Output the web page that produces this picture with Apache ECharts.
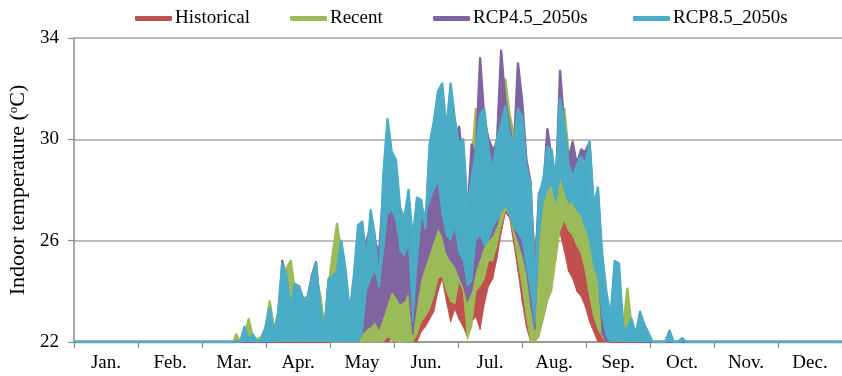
<!DOCTYPE html>
<html>
<head>
<meta charset="utf-8">
<script src="https://cdn.jsdelivr.net/npm/echarts@6/dist/echarts.min.js"></script>
<style>
html,body{margin:0;padding:0;background:#fff;}
#chart{width:842px;height:376px;}
</style>
</head>
<body>
<div id="chart"></div>
<script>
// Month labels on the x axis
const months = ['Jan.','Feb.','Mar.','Apr.','May','Jun.','Jul.','Aug.','Sep.','Oct.','Nov.','Dec.'];
const seriesNames = ['Historical','Recent','RCP4.5_2050s','RCP8.5_2050s'];
const seriesColors = ['#C0504D','#9BBB59','#8064A2','#4BACC6'];
const yMin = 22, yMax = 34, yStep = 4;
const yearDays = 365;
// Readings are taken as 2-day windows (daily min / max), starting on this day of year;
// outside the windows every series sits at the 22 °C floor.
const firstDay = 76;
const floorTemp = 22;

// RCP8.5_2050s (blue)
const rcp85Hi = [22,22,22.6,22.1,22.3,22,22.1,22.6,23.35,22.3,
 23.2,25.1,24.6,23.3,24.3,24.2,23.7,23.8,24.5,25.1,
 23.4,22.4,24.5,24.6,24.8,26.0,24.9,23.2,24.6,26.6,
 26.75,25.2,27.2,26.2,24.2,28.6,30.8,29.5,29.2,27.3,
 26.9,28.0,26.0,27.7,27.6,26.5,29.8,30.7,31.9,32.2,
 30.4,32.2,30.8,29.8,30.0,27.3,28.5,29.5,31.0,31.2,
 29.6,28.7,30.0,30.6,31.3,30.2,29.8,31.2,30.9,28.9,
 28.2,24.0,27.8,28.4,29.7,29.6,28.2,31.6,30.6,29.0,
 28.5,29.0,29.3,29.0,29.9,27.4,28.1,25.5,24.0,23.0,
 25.2,25.1,22.6,22.5,22.9,22.3,23.2,22.7,22.35,22,
 22,22,22,22.45,22,22,22.15,22,22,22];
const rcp85Lo = [22,22,22,22,22,22,22,22,22,22,
 22,22,22,22,22,22,22,22,22,22,
 22,22,22,22,22,22,22,22,22,22,
 22.3,24.0,24.5,24.8,24.2,25.5,27.0,27.2,26.8,25.6,
 25.4,25.8,22.8,25.0,26.8,27.2,27.5,28.0,28.3,27.0,
 26.2,26.0,26.5,25.5,25.2,24.2,24.4,26.0,26.2,25.8,
 26.0,26.5,26.8,27.1,27.4,27.0,26.5,26.3,26.0,25.0,
 24.0,22.75,26.0,27.5,28.0,28.2,27.5,28.5,28.0,27.5,
 27.5,27.2,27.0,26.5,26.0,25.0,24.5,23.0,22.2,22,
 22,22,22,22,22,22,22,22,22,22,
 22,22,22,22,22,22,22,22,22,22];

// RCP4.5_2050s (purple)
const rcp45Hi = [22,22,22,22,22,22,22,22,22,22,
 22.5,25.2,24.5,23.0,24.2,24.0,23.5,23.7,24.6,25.15,
 23.2,22.3,24.4,24.4,24.6,25.8,24.6,23.0,24.2,25.5,
 25.8,26.0,26.5,26.0,25.5,28.0,29.5,28.8,28.5,27.0,
 26.5,27.6,26.0,27.5,27.3,26.3,29.5,30.2,31.0,31.5,
 30.2,31.0,30.0,30.5,29.0,27.0,29.8,29.3,33.2,30.8,
 30.0,29.6,29.8,33.5,31.5,30.5,29.5,33.0,31.5,29.2,
 28.3,24.5,27.9,28.0,30.4,29.2,28.0,32.7,30.5,29.2,
 29.9,29.0,29.6,29.5,29.9,27.2,27.8,25.0,23.0,22.8,
 23.5,23.0,22.3,22,22,22,22,22,22,22,
 22,22,22,22,22,22,22,22,22,22];
const rcp45Lo = [22,22,22,22,22,22,22,22,22,22,
 22,22,22,22,22,22,22,22,22,22,
 22,22,22,22,22,22,22,22,22,22,
 22.3,22.5,22.6,22.8,22.5,23.0,23.5,24.0,23.8,23.5,
 23.6,24.0,22.3,23.5,24.5,25.0,25.5,26.0,26.5,26.2,
 25.5,25.2,25.0,24.6,24.2,23.6,24.0,24.8,25.3,25.8,
 26.0,26.2,26.6,27.2,27.5,27.0,26.5,26.0,25.5,24.8,
 23.5,22.5,26.3,27.8,28.3,28.5,27.8,28.8,28.3,27.8,
 27.8,27.5,27.3,26.8,26.3,25.3,24.8,22.3,22,22,
 22,22,22,22,22,22,22,22,22,22,
 22,22,22,22,22,22,22,22,22,22];

// Recent (green)
const recentHi = [22.3,22,22.2,22.9,22.2,22.1,22.2,22.5,23.6,22.6,
 22.8,24.7,24.9,25.2,24.0,24.2,23.5,23.6,24.0,24.6,
 23.85,22.6,24.2,25.5,26.66,25.5,24.0,22.8,23.8,24.5,
 24.2,23.6,23.8,24.3,23.8,25.0,26.0,26.0,25.6,25.8,
 25.2,25.5,24.0,25.5,26.3,26.5,27.0,27.5,28.0,28.3,
 27.6,27.0,27.0,26.5,26.0,25.6,29.0,31.2,30.0,29.5,
 29.0,29.4,30.0,31.0,32.35,31.0,30.2,30.5,29.5,28.6,
 27.5,25.5,27.0,27.5,28.0,28.4,28.8,30.5,31.2,29.5,
 28.8,28.5,28.2,27.8,27.5,26.5,26.0,25.0,23.5,22.6,
 22.3,22.5,22.6,24.1,22.6,22.2,22.1,22,22,22,
 22,22,22,22,22,22,22,22,22,22];
const recentLo = [22,22,22,22,22,22,22,22,22,22,
 22,22,22,22,22,22,22,22,22,22,
 22,22,22,22,22,22,22,22,22,22,
 22,22,22,22,22,22,22.2,22.1,22,22,
 22,22,22.0,22.3,22.8,23.0,23.3,23.8,24.5,24.6,
 24.0,23.6,23.5,24.4,24.0,22.1,22.6,24.0,24.2,24.5,
 25.2,25.2,25.8,26.6,27.2,27.0,26.2,25.2,24.2,23.0,
 22.0,22.0,22.2,22.9,23.6,24.0,25.2,26.4,26.8,26.4,
 26.2,25.8,25.5,24.8,23.8,23.0,22.5,22.2,22,22,
 22,22,22,22,22,22,22,22,22,22,
 22,22,22,22,22,22,22,22,22,22];

// Historical (red)
const histHi = [22,22,22,22,22,22,22,22,22,22,
 22,22,22,22,22,22,22,22,22,22,
 22,22,22,22.2,22.3,22.5,22.3,22.2,22.6,23.0,
 22.8,23.2,22.8,23.0,22.8,23.5,24.0,24.0,23.6,23.8,
 23.5,24.2,23.0,23.2,24.6,24.8,25.0,25.3,25.6,26.0,
 25.5,24.8,24.6,24.5,24.0,23.6,24.2,24.8,25.2,25.4,
 25.4,26.0,26.8,27.2,27.6,27.4,26.9,26.3,25.6,24.4,
 23.6,23.0,23.8,24.6,25.2,25.8,26.6,27.2,27.6,26.8,
 26.3,26.0,25.6,25.2,24.8,24.3,23.2,22.6,22.2,22,
 22,22,22,22,22,22,22,22,22,22,
 22,22,22,22,22,22,22,22,22,22];
const histLo = [22,22,22,22,22,22,22,22,22,22,
 22,22,22,22,22,22,22,22,22,22,
 22,22,22,22,22,22,22,22,22,22,
 22,22,22,22,22,22,22,22.1,22,22,
 22,22,22.0,22.0,22.4,22.6,22.9,23.2,24.0,24.5,
 23.6,22.8,23.3,22.9,22.6,22.2,22.8,23.0,22.5,23.5,
 24.2,24.5,25.3,26.3,27.1,26.9,25.9,24.8,23.6,22.6,
 22.0,22.0,22.3,22.9,23.6,24.6,25.8,26.3,25.6,24.8,
 24.5,24.0,23.8,23.4,22.8,22.4,22,22,22,22,
 22,22,22,22,22,22,22,22,22,22,
 22,22,22,22,22,22,22,22,22,22];

// [day, min, max] rows for each series; the floor holds before and after the readings.
function buildRows(hi, lo) {
  const rows = [[0, floorTemp, floorTemp], [firstDay, floorTemp, floorTemp]];
  for (let i = 0; i < hi.length; i++) {
    rows.push([firstDay + 2 * i + 1, lo[i], hi[i]]);
  }
  rows.push([firstDay + 2 * hi.length, floorTemp, floorTemp]);
  rows.push([yearDays, floorTemp, floorTemp]);
  return rows;
}

const rows = [
  buildRows(histHi, histLo),
  buildRows(recentHi, recentLo),
  buildRows(rcp45Hi, rcp45Lo),
  buildRows(rcp85Hi, rcp85Lo)
];

const FONT = '"Liberation Serif","Times New Roman",serif';
const axisGray = '#8c8c8c';
const legendLefts = [130, 285, 428, 628];

function bandRenderer(color) {
  return function (params, api) {
    const i = params.dataIndexInside;
    if (i >= params.dataInsideLength - 1) return null;
    const x0 = api.value(0, i), lo0 = api.value(1, i), hi0 = api.value(2, i);
    const x1 = api.value(0, i + 1), lo1 = api.value(1, i + 1), hi1 = api.value(2, i + 1);
    const pts = [api.coord([x0, hi0]), api.coord([x1, hi1]), api.coord([x1, lo1]), api.coord([x0, lo0])];
    return {
      type: 'polygon',
      shape: {points: pts},
      style: {fill: color, stroke: color, lineWidth: 0.9}
    };
  };
}

const series = [];
seriesNames.forEach((name, k) => {
  series.push({
    name: name + ' band',
    type: 'custom',
    xAxisIndex: 1,
    data: rows[k],
    encode: {x: 0, y: [1, 2]},
    renderItem: bandRenderer(seriesColors[k]),
    clip: true,
    silent: true,
    z: 10 + 2 * k
  });
  series.push({
    name: name,
    type: 'line',
    xAxisIndex: 1,
    data: rows[k].map(r => [r[0], r[2]]),
    showSymbol: false,
    symbol: 'none',
    lineStyle: {width: 2.4, color: seriesColors[k], join: 'round', cap: 'round'},
    itemStyle: {color: seriesColors[k]},
    z: 11 + 2 * k
  });
});

const legends = seriesNames.map((name, k) => ({
  data: [name],
  top: 4,
  left: legendLefts[k],
  itemWidth: 37,
  itemHeight: 5,
  icon: 'roundRect',
  selectedMode: false,
  textStyle: {fontFamily: FONT, fontSize: 19, color: '#000', padding: [0, 0, 0, -2]}
}));

const chart = echarts.init(document.getElementById('chart'), null, {renderer: 'canvas'});
chart.setOption({
  animation: false,
  backgroundColor: '#fff',
  textStyle: {fontFamily: FONT, color: '#000'},
  legend: legends,
  grid: {left: 74, right: 0, top: 38, bottom: 34, containLabel: false, outerBoundsMode: 'none'},
  xAxis: [
    {
      type: 'category',
      data: months,
      boundaryGap: true,
      axisLine: {lineStyle: {color: axisGray, width: 1.5}},
      axisTick: {show: true, length: 6, lineStyle: {color: axisGray, width: 1.2}},
      axisLabel: {color: '#000', fontFamily: FONT, fontSize: 19, margin: 12},
      splitLine: {show: false}
    },
    {
      type: 'value',
      min: 0,
      max: yearDays,
      show: false
    }
  ],
  yAxis: {
    type: 'value',
    min: yMin,
    max: yMax,
    interval: yStep,
    name: 'Indoor temperature ({sup|o}C)',
    nameLocation: 'middle',
    nameRotate: 90,
    nameGap: 45,
    nameTextStyle: {
      fontFamily: FONT, fontSize: 22, color: '#000',
      rich: {sup: {fontFamily: FONT, fontSize: 13, color: '#000', verticalAlign: 'top', lineHeight: 22}}
    },
    axisLine: {show: true, lineStyle: {color: axisGray, width: 1.5}},
    axisTick: {show: true, length: 6, lineStyle: {color: axisGray, width: 1.2}},
    axisLabel: {color: '#000', fontFamily: FONT, fontSize: 19, margin: 15},
    splitLine: {show: true, lineStyle: {color: '#a6a6a6', width: 1.5}}
  },
  series: series
});
</script>
</body>
</html>
